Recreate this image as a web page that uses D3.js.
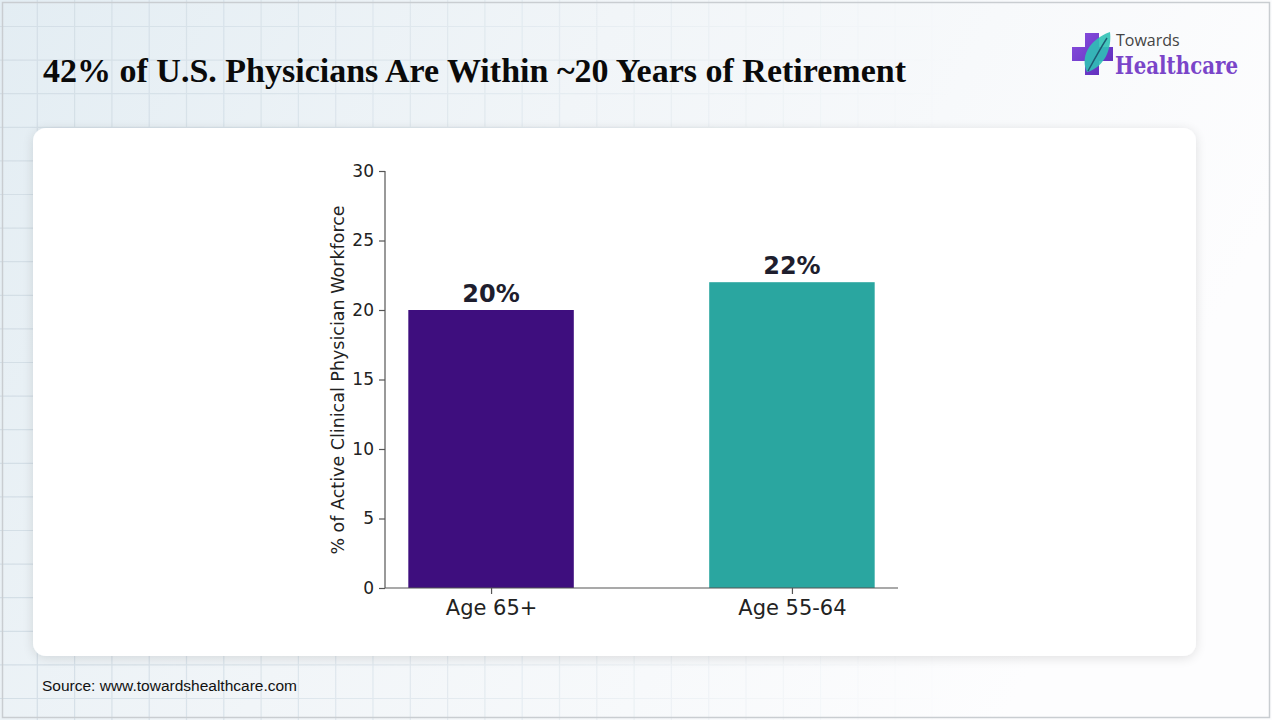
<!DOCTYPE html>
<html>
<head>
<meta charset="utf-8">
<script src="https://cdn.jsdelivr.net/npm/d3@7/dist/d3.min.js"></script>
<style>
html,body{margin:0;padding:0;background:#fff;}
svg{display:block;}
</style>
</head>
<body>
<svg id="chart" width="1272" height="720"></svg>
<script>
const categories = ["Age 65+", "Age 55-64"];
const values = [20, 22];
const valueLabels = ["20%", "22%"];
const barColors = ["#3e0e7e", "#2aa6a0"];
const yTicks = [0, 5, 10, 15, 20, 25, 30];
const titleText = "42% of U.S. Physicians Are Within ~20 Years of Retirement";
const yAxisTitle = "% of Active Clinical Physician Workforce";
const sourceText = "Source: www.towardshealthcare.com";

const W = 1272, H = 720;
const svg = d3.select("#chart");
const defs = svg.append("defs");

const bg = defs.append("linearGradient").attr("id","bgGrad").attr("x1","0").attr("y1","0").attr("x2","1").attr("y2","0.3");
bg.append("stop").attr("offset","0").attr("stop-color","#e3edf3");
bg.append("stop").attr("offset","0.45").attr("stop-color","#f1f5f8");
bg.append("stop").attr("offset","1").attr("stop-color","#fdfdfe");

const fadeG = defs.append("linearGradient").attr("id","fade").attr("x1","0").attr("y1","0").attr("x2","1").attr("y2","0");
fadeG.append("stop").attr("offset","0").attr("stop-color","#fff").attr("stop-opacity",1);
fadeG.append("stop").attr("offset","0.5").attr("stop-color","#fff").attr("stop-opacity",0.3);
fadeG.append("stop").attr("offset","0.75").attr("stop-color","#fff").attr("stop-opacity",0);
const mask = defs.append("mask").attr("id","gridMask");
mask.append("rect").attr("width",W).attr("height",H).attr("fill","url(#fade)");

const shadow = defs.append("filter").attr("id","shadow").attr("x","-5%").attr("y","-5%").attr("width","110%").attr("height","115%");
shadow.append("feGaussianBlur").attr("in","SourceAlpha").attr("stdDeviation",6);
shadow.append("feOffset").attr("dx",0).attr("dy",2).attr("result","b");
shadow.append("feComponentTransfer").append("feFuncA").attr("type","linear").attr("slope",0.12);
const mg = shadow.append("feMerge");
mg.append("feMergeNode");
mg.append("feMergeNode").attr("in","SourceGraphic");

svg.append("rect").attr("width",W).attr("height",H).attr("fill","url(#bgGrad)");

const grid = svg.append("g").attr("mask","url(#gridMask)").attr("stroke","#d3dee6").attr("stroke-width",1.2);
d3.range(37.3, W, 37.3).forEach(x => grid.append("line").attr("x1",x).attr("x2",x).attr("y1",0).attr("y2",H));
d3.range(26.5, H, 33.6).forEach(y => grid.append("line").attr("x1",0).attr("x2",W).attr("y1",y).attr("y2",y));

svg.append("rect").attr("x",2.5).attr("y",2.5).attr("width",W-5).attr("height",H-5).attr("fill","none").attr("stroke","#c9cdd1").attr("stroke-width",1.5);

svg.append("rect").attr("x",33).attr("y",128).attr("width",1163).attr("height",528).attr("rx",13).attr("fill","#ffffff").attr("filter","url(#shadow)");

svg.append("text").attr("x",43).attr("y",82).attr("font-family","'Liberation Serif', 'Times New Roman', serif").attr("font-weight","bold").attr("font-size",33.5).attr("fill","#0a0a0a").attr("textLength",863).attr("lengthAdjust","spacingAndGlyphs").text(titleText);

// logo
const crossG = defs.append("linearGradient").attr("id","crossGrad").attr("x1","0").attr("y1","0").attr("x2","1").attr("y2","1");
crossG.append("stop").attr("offset","0").attr("stop-color","#8a4fe0");
crossG.append("stop").attr("offset","1").attr("stop-color","#5a2bb8");
const logo = svg.append("g").attr("transform","translate(1072,30)");
logo.append("path").attr("d","M13,0 H27 V14 H41 V28 H27 V42 H13 V28 H0 V14 H13 Z").attr("fill","url(#crossGrad)").attr("transform","translate(0,3)");
logo.append("path").attr("d","M15,42 C8,28 16,10 38,2 C40,18 33,37 15,42 Z").attr("fill","#2fc1b5").attr("opacity",0.9);
logo.append("path").attr("d","M16,41 C22,30 28,19 35,8").attr("stroke","#1d5a72").attr("stroke-width",1.4).attr("fill","none");
logo.append("text").attr("x",44).attr("y",16).attr("font-family","'Open Sans', 'Liberation Sans', sans-serif").attr("font-size",16).attr("fill","#444").text("Towards");
logo.append("text").attr("x",43).attr("y",44).attr("font-family","'DejaVu Serif', 'Liberation Serif', serif").attr("font-weight","bold").attr("font-size",24).attr("fill","#7a45c9").attr("textLength",123).attr("lengthAdjust","spacingAndGlyphs").text("Healthcare");

const x = d3.scaleLinear().domain([-0.3525, 1.3525]).range([385, 898]);
const y = d3.scaleLinear().domain([0, 30]).range([588, 171]);
const bw = 0.55;
const font = "'DejaVu Sans', sans-serif";
const chart = svg.append("g");

chart.selectAll("rect.bar").data(values).enter().append("rect").attr("class","bar")
  .attr("x",(d,i)=>x(i-bw/2)).attr("width",(d,i)=>x(i+bw/2)-x(i-bw/2))
  .attr("y",d=>y(d)).attr("height",d=>y(0)-y(d)).attr("fill",(d,i)=>barColors[i]);

chart.selectAll("text.val").data(values).enter().append("text").attr("class","val")
  .attr("x",(d,i)=>x(i)).attr("y",d=>y(d)-8).attr("text-anchor","middle")
  .attr("font-family",font).attr("font-weight","bold").attr("font-size",24).attr("fill","#1e1e2e")
  .text((d,i)=>valueLabels[i]);

const yAxis = chart.append("g").attr("transform","translate(385,0)")
  .call(d3.axisLeft(y).tickValues(yTicks).tickSize(6).tickPadding(5));
yAxis.selectAll("text").attr("font-family",font).attr("font-size",17).attr("fill","#222");
yAxis.selectAll("line,path").attr("stroke","#555").attr("stroke-width",1.2);
yAxis.select("path.domain").attr("d","M0,588V171");

const xAxis = chart.append("g").attr("transform","translate(0,588)")
  .call(d3.axisBottom(x).tickValues([0,1]).tickFormat((d)=>categories[d]).tickSize(6).tickPadding(6));
xAxis.selectAll("text").attr("font-family",font).attr("font-size",21).attr("fill","#222");
xAxis.selectAll("line,path").attr("stroke","#555").attr("stroke-width",1.2);
xAxis.select("path.domain").attr("d","M385,0H898");

chart.append("text").attr("transform","translate(344,380) rotate(-90)").attr("text-anchor","middle")
  .attr("font-family",font).attr("font-size",17.5).attr("fill","#222").text(yAxisTitle);

svg.append("text").attr("x",42).attr("y",691).attr("font-family","'Liberation Sans', Arial, sans-serif").attr("font-size",15.5).attr("fill","#111").text(sourceText);
</script>
</body>
</html>
